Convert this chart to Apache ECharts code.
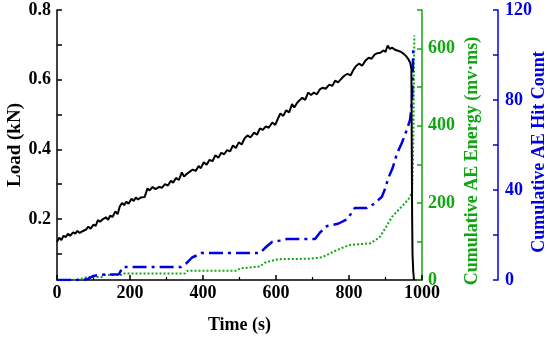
<!DOCTYPE html>
<html>
<head>
<meta charset="utf-8">
<script src="https://cdn.jsdelivr.net/npm/echarts@6/dist/echarts.min.js"></script>
<style>html,body{margin:0;padding:0;background:#fff}#c{width:550px;height:338px}</style>
</head>
<body>
<div id="c"></div>
<script>
var FONT = "'Liberation Serif','Times New Roman',serif";
var GREEN = '#12a512';
var BLUE = '#0000e6';

var loadTime = [0,6,12,18,24,30,36,44,50,56,62,70,80,86,92,100,106,112,118,126,134,140,146,152,160,166,172,178,184,190,196,204,210,216,222,230,240,248,254,262,270,280,288,296,304,312,318,326,334,342,348,356,364,372,380,388,394,402,410,418,426,434,442,450,458,466,474,482,490,498,506,514,522,530,540,548,556,564,572,580,590,598,606,612,620,628,636,644,650,658,664,672,680,688,696,704,712,720,728,736,746,754,762,770,780,788,796,804,812,820,828,836,846,854,862,870,878,886,894,900,906,912,918,926,934,942,950,956,962,968,971,972,973,974,976,978];
var loadValue = [0.135,0.146,0.140,0.152,0.148,0.158,0.152,0.162,0.158,0.166,0.160,0.165,0.170,0.178,0.172,0.184,0.180,0.197,0.192,0.200,0.205,0.198,0.210,0.206,0.222,0.214,0.236,0.246,0.240,0.250,0.244,0.258,0.252,0.262,0.256,0.262,0.263,0.288,0.282,0.292,0.286,0.292,0.290,0.300,0.296,0.310,0.304,0.318,0.312,0.334,0.322,0.330,0.336,0.342,0.338,0.352,0.346,0.363,0.356,0.370,0.366,0.383,0.376,0.390,0.386,0.398,0.394,0.411,0.404,0.420,0.414,0.432,0.440,0.434,0.448,0.442,0.460,0.456,0.466,0.462,0.477,0.470,0.490,0.503,0.496,0.512,0.506,0.530,0.520,0.534,0.540,0.548,0.542,0.563,0.556,0.563,0.558,0.572,0.577,0.574,0.586,0.582,0.597,0.592,0.604,0.612,0.617,0.612,0.628,0.640,0.646,0.640,0.656,0.663,0.660,0.672,0.676,0.677,0.684,0.680,0.698,0.688,0.692,0.686,0.683,0.680,0.674,0.668,0.660,0.648,0.630,0.400,0.200,0.100,0.050,0.025];

var hitTime = [0,70,85,100,115,170,180,340,355,370,384,395,556,575,590,610,630,707,720,740,770,795,816,849,870,890,900,907,920,931,945,959,967,970,973,975,976];
var hitValue = [0,0,0.5,1.8,2.3,2.6,5.8,5.8,7.5,10,11,12,12,15,17,17.5,18.2,18.2,21,24,25,27,32,32,34,37,41,45,50,56,61,67,71,75,81,95,103];

var energyTime = [0,40,60,85,123,130,178,185,350,358,493,501,556,570,597,605,690,726,740,756,780,803,830,858,872,885,900,918,930,940,950,962,973,975,977,978,979];
var energyValue = [0,0,1,8,8,13,13,17,17,24,24,30,35,45,52,54,55,59,65,73,83,91,93,95,103,112,135,164,176,186,196,208,226,300,420,540,634];

var xTicks = [0,200,400,600,800,1000];
var loadTicks = [0.1,0.2,0.3,0.4,0.5,0.6,0.7,0.8];
var loadLabels = [0.2,0.4,0.6,0.8];
var energyTicks = [0,100,200,300,400,500,600,700];
var energyLabels = [0,200,400,600];
var hitTicks = [0,20,40,60,80,100,120];
var hitLabels = [0,40,80,120];

function zip(a,b){return a.map(function(v,i){return [v,b[i]];});}
function plain(v){return String(v);}

var labelStyle = {fontFamily: FONT, fontWeight: 'bold', fontSize: 18, formatter: plain};

var chart = echarts.init(document.getElementById('c'), null, {renderer:'canvas'});
chart.setOption({
  animation: false,
  grid: {left: 57, right: 128, top: 10, bottom: 58, containLabel: false, outerBoundsMode: 'none'},
  xAxis: {
    type: 'value', min: 0, max: 1000, interval: 200,
    name: 'Time (s)', nameLocation: 'middle', nameGap: 36, nameMoveOverlap: false,
    nameTextStyle: {fontFamily: FONT, fontWeight: 'bold', fontSize: 18, color: '#000'},
    axisLine: {show: true, lineStyle: {color: '#000', width: 1.5}},
    axisTick: {show: true, inside: true, length: 5, lineStyle: {color: '#000', width: 1.5}},
    minorTick: {show: true, splitNumber: 2, length: 3, lineStyle: {color: '#000', width: 1.2}},
    axisLabel: Object.assign({color: '#000', margin: 4}, labelStyle),
    splitLine: {show: false}
  },
  yAxis: [
    {
      type: 'value', position: 'left', min: 0.025, max: 0.8,
      name: 'Load (kN)', nameLocation: 'middle', nameGap: 32, nameMoveOverlap: false,
      nameTextStyle: {fontFamily: FONT, fontWeight: 'bold', fontSize: 19, color: '#000'},
      axisLine: {show: true, lineStyle: {color: '#000', width: 1.5}},
      axisTick: {show: true, inside: true, length: 5, customValues: loadTicks, lineStyle: {color: '#000', width: 1.5}},
      axisLabel: Object.assign({color: '#000', margin: 6, customValues: loadLabels}, labelStyle),
      splitLine: {show: false}
    },
    {
      type: 'value', position: 'right', min: 0, max: 700, offset: 0,
      name: 'Cumulative AE Energy (mv·ms)', nameLocation: 'middle', nameGap: 41, nameMoveOverlap: false,
      nameTextStyle: {fontFamily: FONT, fontWeight: 'bold', fontSize: 18, color: GREEN, padding: [0, 32, 0, 0]},
      axisLine: {show: true, onZero: false, lineStyle: {color: GREEN, width: 1.5}},
      axisTick: {show: true, inside: true, length: 5, customValues: energyTicks, lineStyle: {color: GREEN, width: 1.5}},
      axisLabel: Object.assign({color: GREEN, margin: 6, customValues: energyLabels}, labelStyle),
      splitLine: {show: false}
    },
    {
      type: 'value', position: 'right', min: 0, max: 120, offset: 76,
      name: 'Cumulative AE Hit Count', nameLocation: 'middle', nameGap: 32, nameMoveOverlap: false,
      nameTextStyle: {fontFamily: FONT, fontWeight: 'bold', fontSize: 18, color: BLUE, padding: [0, 14, 0, 0]},
      axisLine: {show: true, onZero: false, lineStyle: {color: BLUE, width: 1.5}},
      axisTick: {show: true, inside: true, length: 5, customValues: hitTicks, lineStyle: {color: BLUE, width: 1.5}},
      axisLabel: Object.assign({color: BLUE, margin: 7, customValues: hitLabels}, labelStyle),
      splitLine: {show: false}
    }
  ],
  series: [
    {
      type: 'line', yAxisIndex: 1, data: zip(energyTime, energyValue),
      showSymbol: false, symbol: 'none',
      lineStyle: {color: GREEN, width: 2, type: [2, 2]}, z: 2
    },
    {
      type: 'line', yAxisIndex: 2, data: zip(hitTime, hitValue),
      showSymbol: false, symbol: 'none',
      lineStyle: {color: BLUE, width: 2.5, type: [14, 5, 3, 5]}, z: 3
    },
    {
      type: 'line', yAxisIndex: 0, data: zip(loadTime, loadValue),
      showSymbol: false, symbol: 'none',
      lineStyle: {color: '#000', width: 2}, z: 4
    }
  ]
});
</script>
</body>
</html>
